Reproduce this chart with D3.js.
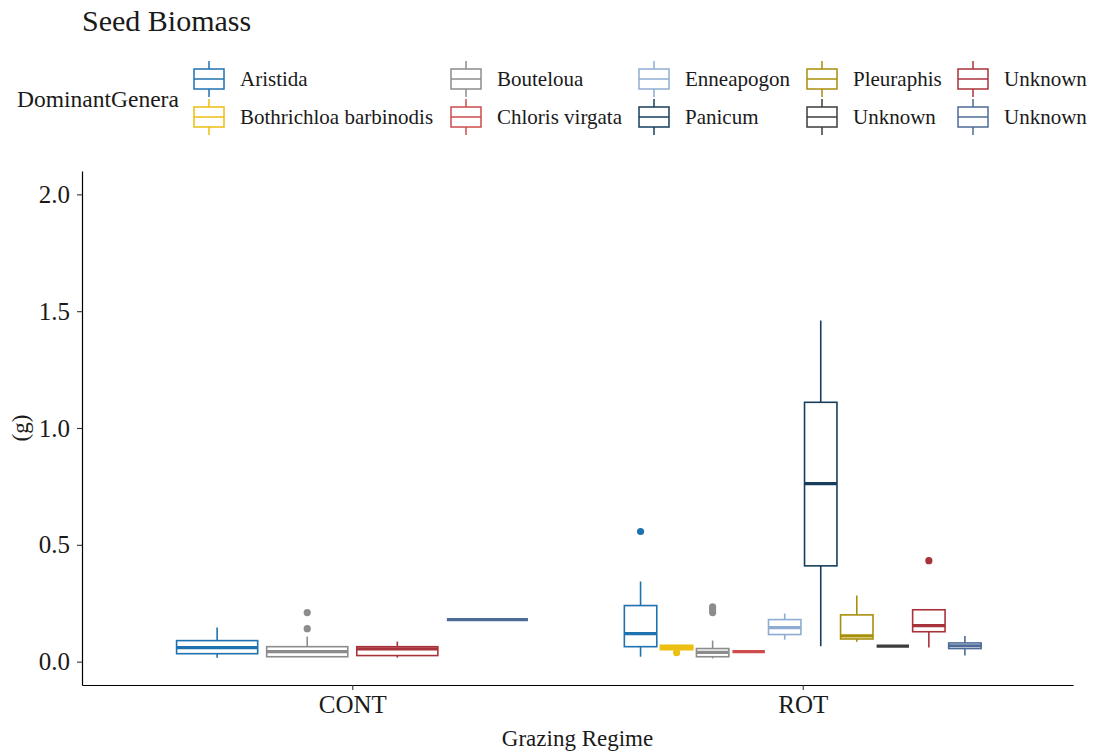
<!DOCTYPE html>
<html>
<head>
<meta charset="utf-8">
<script src="https://cdn.jsdelivr.net/npm/d3@7"></script>
<style>
  body { margin: 0; background: #fff; }
  svg { font-family: "Liberation Serif", "Times New Roman", serif; }
</style>
</head>
<body>
<svg id="chart"></svg>
<script>
const WIDTH = 1093;
const HEIGHT = 752;

const regimes = ['CONT', 'ROT'];
const genera = ['Aristida', 'Bothrichloa barbinodis', 'Bouteloua', 'Chloris virgata', 'Enneapogon',
    'Panicum', 'Pleuraphis', 'Unknown', 'Unknown', 'Unknown'];
const generaColors = ['#1f72b0', '#ecbf12', '#8c8c8c', '#cc4b4b', '#8eacd2',
    '#163e5c', '#a88f0a', '#3c3c3c', '#a8333a', '#4d6b96'];
const yTicks = [0, 0.5, 1.0, 1.5, 2.0];

// box stats (g)
const contGenus = [0, 2, 8, 9];
const contLow = [0.017, 0.02, 0.017, 0.18];
const contQ1 = [0.034, 0.021, 0.026, 0.18];
const contMedian = [0.06, 0.043, 0.055, 0.18];
const contQ3 = [0.09, 0.064, 0.064, 0.18];
const contHigh = [0.146, 0.107, 0.086, 0.18];
const contOutliers = [[], [0.141, 0.21], [], []];

const rotGenus = [0, 1, 2, 3, 4, 5, 6, 7, 8, 9];
const rotLow = [0.021, 0.051, 0.014, 0.043, 0.094, 0.066, 0.085, 0.066, 0.06, 0.026];
const rotQ1 = [0.064, 0.051, 0.021, 0.043, 0.116, 0.41, 0.097, 0.066, 0.128, 0.056];
const rotMedian = [0.12, 0.06, 0.04, 0.043, 0.146, 0.762, 0.11, 0.066, 0.154, 0.068];
const rotQ3 = [0.24, 0.07, 0.056, 0.043, 0.18, 1.11, 0.2, 0.066, 0.222, 0.08];
const rotHigh = [0.343, 0.07, 0.09, 0.043, 0.206, 1.46, 0.283, 0.066, 0.222, 0.11];
const rotOutliers = [[0.557], [0.038], [0.21, 0.222, 0.235], [], [], [], [], [], [0.432], []];

const margin = { top: 171, right: 20, bottom: 67, left: 82 };
const innerW = WIDTH - margin.left - margin.right;
const innerH = HEIGHT - margin.top - margin.bottom;

function buildBoxes(regime, genus, low, q1, med, q3, high, outliers) {
    return genus.map((g, i) => ({
        regime, slot: i, n: genus.length, genus: g,
        low: low[i], q1: q1[i], median: med[i], q3: q3[i], high: high[i],
        outliers: outliers[i],
    }));
}

const boxes = [
    ...buildBoxes('CONT', contGenus, contLow, contQ1, contMedian, contQ3, contHigh, contOutliers),
    ...buildBoxes('ROT', rotGenus, rotLow, rotQ1, rotMedian, rotQ3, rotHigh, rotOutliers),
];

const svg = d3.select('#chart')
    .attr('width', WIDTH)
    .attr('height', HEIGHT);

svg.append('rect').attr('width', WIDTH).attr('height', HEIGHT).attr('fill', '#fff');

const x = d3.scalePoint()
    .domain(regimes)
    .range([0, innerW])
    .padding(0.6);

const y = d3.scaleLinear()
    .domain([-0.1, 2.1])
    .range([innerH, 0]);

const dodgeWidth = x.step() * 0.8;

function inner(d) {
    return d3.scaleBand()
        .domain(d3.range(d.n))
        .range([x(d.regime) - dodgeWidth / 2, x(d.regime) + dodgeWidth / 2])
        .paddingInner(0.1)
        .paddingOuter(0.05);
}

const g = svg.append('g')
    .attr('transform', `translate(${margin.left},${margin.top})`);

// axes
const yAxis = g.append('g')
    .call(d3.axisLeft(y).tickValues(yTicks).tickFormat(d3.format('.1f')).tickSize(5).tickSizeOuter(0));
const xAxis = g.append('g')
    .attr('transform', `translate(0,${innerH})`)
    .call(d3.axisBottom(x).tickSize(5).tickSizeOuter(0));

[yAxis, xAxis].forEach(a => {
    a.select('.domain').attr('stroke', '#000').attr('stroke-width', 1.2);
    a.selectAll('.tick line').attr('stroke', '#333').attr('stroke-width', 1.1);
    a.selectAll('.tick text')
        .attr('fill', '#1a1a1a')
        .style('font-family', '"Liberation Serif", serif')
        .style('font-size', '25px');
});
yAxis.selectAll('.tick text').attr('x', -12);
xAxis.selectAll('.tick text').attr('y', 10);

// boxes
g.selectAll('.box')
    .data(boxes)
    .join('g')
    .attr('class', 'box')
    .each(function(d) {
        const band = inner(d);
        const x0 = band(d.slot);
        const w = band.bandwidth();
        const cx = x0 + w / 2;
        const col = generaColors[d.genus];
        const sel = d3.select(this);

        sel.append('line')
            .attr('x1', cx).attr('x2', cx)
            .attr('y1', y(d.high)).attr('y2', y(d.q3))
            .attr('stroke', col).attr('stroke-width', 1.6);
        sel.append('line')
            .attr('x1', cx).attr('x2', cx)
            .attr('y1', y(d.q1)).attr('y2', y(d.low))
            .attr('stroke', col).attr('stroke-width', 1.6);
        sel.append('rect')
            .attr('x', x0).attr('width', w)
            .attr('y', y(d.q3)).attr('height', Math.max(0, y(d.q1) - y(d.q3)))
            .attr('fill', '#fff')
            .attr('stroke', col).attr('stroke-width', 1.6);
        sel.append('line')
            .attr('x1', x0).attr('x2', x0 + w)
            .attr('y1', y(d.median)).attr('y2', y(d.median))
            .attr('stroke', col).attr('stroke-width', 3.2);
        sel.selectAll('circle')
            .data(d.outliers)
            .join('circle')
            .attr('cx', cx)
            .attr('cy', v => y(v))
            .attr('r', 3.6)
            .attr('fill', col);
    });

// axis titles
svg.append('text')
    .attr('x', margin.left + innerW / 2)
    .attr('y', 746)
    .attr('text-anchor', 'middle')
    .style('font-size', '23px')
    .attr('fill', '#1a1a1a')
    .text('Grazing Regime');

svg.append('text')
    .attr('transform', `translate(28,${margin.top + y(1.0)}) rotate(-90)`)
    .attr('text-anchor', 'middle')
    .style('font-size', '23px')
    .attr('fill', '#1a1a1a')
    .text('(g)');

// title
svg.append('text')
    .attr('x', 82)
    .attr('y', 31)
    .style('font-size', '30px')
    .attr('fill', '#1a1a1a')
    .text('Seed Biomass');

// legend
svg.append('text')
    .attr('x', 17)
    .attr('y', 107)
    .style('font-size', '23.5px')
    .attr('fill', '#1a1a1a')
    .text('DominantGenera');

const legendCols = [194, 451, 639, 807, 958];
const legendRows = [79, 117];
const KEY_W = 30;
const KEY_H = 20;
const WHISK = 8;

const legendItems = svg.selectAll('.legend-item')
    .data(genera)
    .join('g')
    .attr('class', 'legend-item')
    .attr('transform', (d, i) => `translate(${legendCols[Math.floor(i / 2)]},${legendRows[i % 2]})`);

legendItems.each(function(d, i) {
    const sel = d3.select(this);
    const col = generaColors[i];
    sel.append('line')
        .attr('x1', KEY_W / 2).attr('x2', KEY_W / 2)
        .attr('y1', -KEY_H / 2 - WHISK).attr('y2', KEY_H / 2 + WHISK)
        .attr('stroke', col).attr('stroke-width', 1.5);
    sel.append('rect')
        .attr('x', 0).attr('y', -KEY_H / 2)
        .attr('width', KEY_W).attr('height', KEY_H)
        .attr('fill', '#fff')
        .attr('stroke', col).attr('stroke-width', 1.5);
    sel.append('line')
        .attr('x1', 0).attr('x2', KEY_W)
        .attr('y1', 0).attr('y2', 0)
        .attr('stroke', col).attr('stroke-width', 1.5);
    sel.append('text')
        .attr('x', KEY_W + 16)
        .attr('y', 0)
        .attr('dy', '0.35em')
        .style('font-size', '21px')
        .attr('fill', '#1a1a1a')
        .text(d);
});
</script>
</body>
</html>
